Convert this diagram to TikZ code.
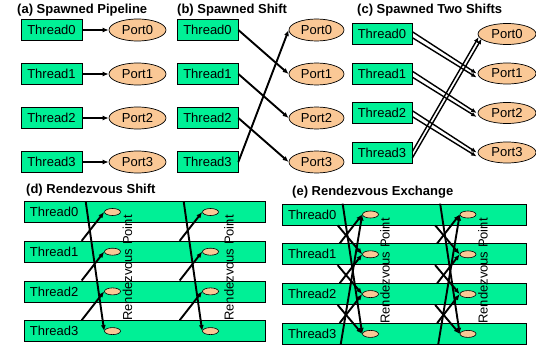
\documentclass[tikz,border=0pt]{standalone}
\usepackage{fontspec}
\setmainfont{Liberation Sans}
\usetikzlibrary{arrows.meta,calc,shapes.geometric}
\definecolor{thgreen}{RGB}{0,240,150}
\definecolor{portor}{RGB}{250,200,150}
\begin{document}
\begin{tikzpicture}[x=1pt,y=-1pt,
  font=\fontsize{13}{15}\selectfont,
  thr/.style={draw=black,line width=0.7pt,fill=thgreen,minimum width=61pt,minimum height=21pt,inner sep=0pt},
  port/.style={ellipse,draw=black,line width=0.7pt,fill=portor,minimum width=57pt,minimum height=22pt,inner sep=0pt},
  ttl/.style={font=\fontsize{13}{15}\selectfont\bfseries,anchor=west,inner sep=0pt},
  arr/.style={line width=1.9pt,-{Latex[length=6pt,width=5pt]}},
  arrc/.style={line width=1.4pt,-{Latex[length=5.5pt,width=4.5pt]}},
  bar/.style={draw=black,line width=0.7pt,fill=thgreen,minimum height=21pt,inner sep=0pt,align=left},
  rv/.style={ellipse,draw=black,line width=0.6pt,fill=portor,minimum width=16pt,minimum height=7pt,inner sep=0pt},
  rvtxt/.style={rotate=90,inner sep=0pt}]
\useasboundingbox (0,0) rectangle (536,345);

% ---------- (a) ----------
\node[ttl] (ta) at (17,10) {(a) Spawned Pipeline};
\foreach \i/\y in {0/30,1/74,2/118,3/162}{
  \node[thr] (a\i) at (51.5,\y) {Thread\i};
  \node[port] (ap\i) at (137.5,\y) {Port\i};
  \draw[arr] (a\i) -- (ap\i);
}

% ---------- (b) ----------
\node[ttl] (tb) at (177,10) {(b) Spawned Shift};
\foreach \i/\y in {0/30,1/74,2/118,3/162}{
  \node[thr] (b\i) at (207.5,\y) {Thread\i};
  \node[port,minimum width=55pt] (bp\i) at (316.5,\y) {Port\i};
}
\foreach \i/\j in {0/1,1/2,2/3,3/0}{
  \draw[arr] (b\i.east) -- (bp\j.west);
}

% ---------- (c) ----------
\node[ttl] (tc) at (357,10) {(c) Spawned Two Shifts};
\foreach \i/\y in {0/34,1/73.5,2/113,3/152.5}{
  \node[thr,minimum width=60pt] (c\i) at (382,\y) {Thread\i};
  \node[port,minimum width=58pt,minimum height=21pt] (cp\i) at (507,\y) {Port\i};
}
\foreach \i/\j in {0/1,1/2,2/3}{
  \draw[arrc] ($(c\i.east)+(0,-2.3)$) -- ($(cp\j.west)+(-1,0)$);
  \draw[arrc] ($(c\i.east)+(0,3.7)$) -- ($(cp\j.west)+(-1,4)$);
}
\draw[arrc] ($(c3.east)+(0,-1)$) -- ($(cp0.west)+(1,3)$);
\draw[arrc] ($(c3.east)+(0,5.5)$) -- ($(cp0.west)+(4,4.7)$);

% ---------- (d) ----------
\node[ttl] (td) at (26,190) {(d) Rendezvous Shift};
\foreach \i in {0,1,2,3}{
  \pgfmathsetmacro\yy{212+39.7*\i}
  \node[bar,minimum width=241pt,text width=229pt] (d\i) at (144.5,\yy) {Thread\i};
  \node[rv] (dr\i) at (112.5,\yy) {};
  \node[rv] (ds\i) at (210.5,\yy) {};
}
\node[rvtxt] (dtx1) at (127.5,268) {Rendezvous Point};
\node[rvtxt] (dtx2) at (229,268) {Rendezvous Point};
\foreach \dx/\n in {0/dr,98/ds}{
  \coordinate (dl\n) at ($(d0.north west)+(62+\dx,0)$);
  \draw[arr] (dl\n) -- (\n3.west);
  \foreach \i/\j in {1/0,2/1,3/2}{
    \coordinate (du\n\i) at ($(d\i.north west)+(58+\dx,0)$);
    \draw[arr] (du\n\i) -- (\n\j.west);
  }
}

% ---------- (e) ----------
\node[ttl] (te) at (292,192) {(e) Rendezvous Exchange};
\foreach \i in {0,1,2,3}{
  \pgfmathsetmacro\yy{214.5+39.8*\i}
  \node[bar,minimum width=244pt,text width=232pt] (e\i) at (404,\yy) {Thread\i};
  \node[rv] (er\i) at (370.5,\yy) {};
  \node[rv] (es\i) at (468,\yy) {};
}
\node[rvtxt] (etx1) at (385,271) {Rendezvous Point};
\node[rvtxt] (etx2) at (483,271) {Rendezvous Point};
\foreach \dx/\n in {0/er,97.5/es}{
  \coordinate (el\n) at ($(e0.north west)+(61+\dx,0)$);
  \draw[arr] (el\n) -- (\n3.west);
  \coordinate (eu\n) at ($(e3.south west)+(59+\dx,0)$);
  \draw[arr] (eu\n) -- (\n0.west);
  \foreach \i/\j in {1/0,2/1,3/2}{
    \coordinate (ea\n\i) at ($(e\i.north west)+(58+\dx,0)$);
    \draw[arr] (ea\n\i) -- (\n\j.west);
  }
  \foreach \i/\j in {0/1,1/2,2/3}{
    \coordinate (eb\n\i) at ($(e\i.south west)+(56+\dx,0)$);
    \draw[arr] (eb\n\i) -- (\n\j.west);
  }
}
\end{tikzpicture}
\end{document}
